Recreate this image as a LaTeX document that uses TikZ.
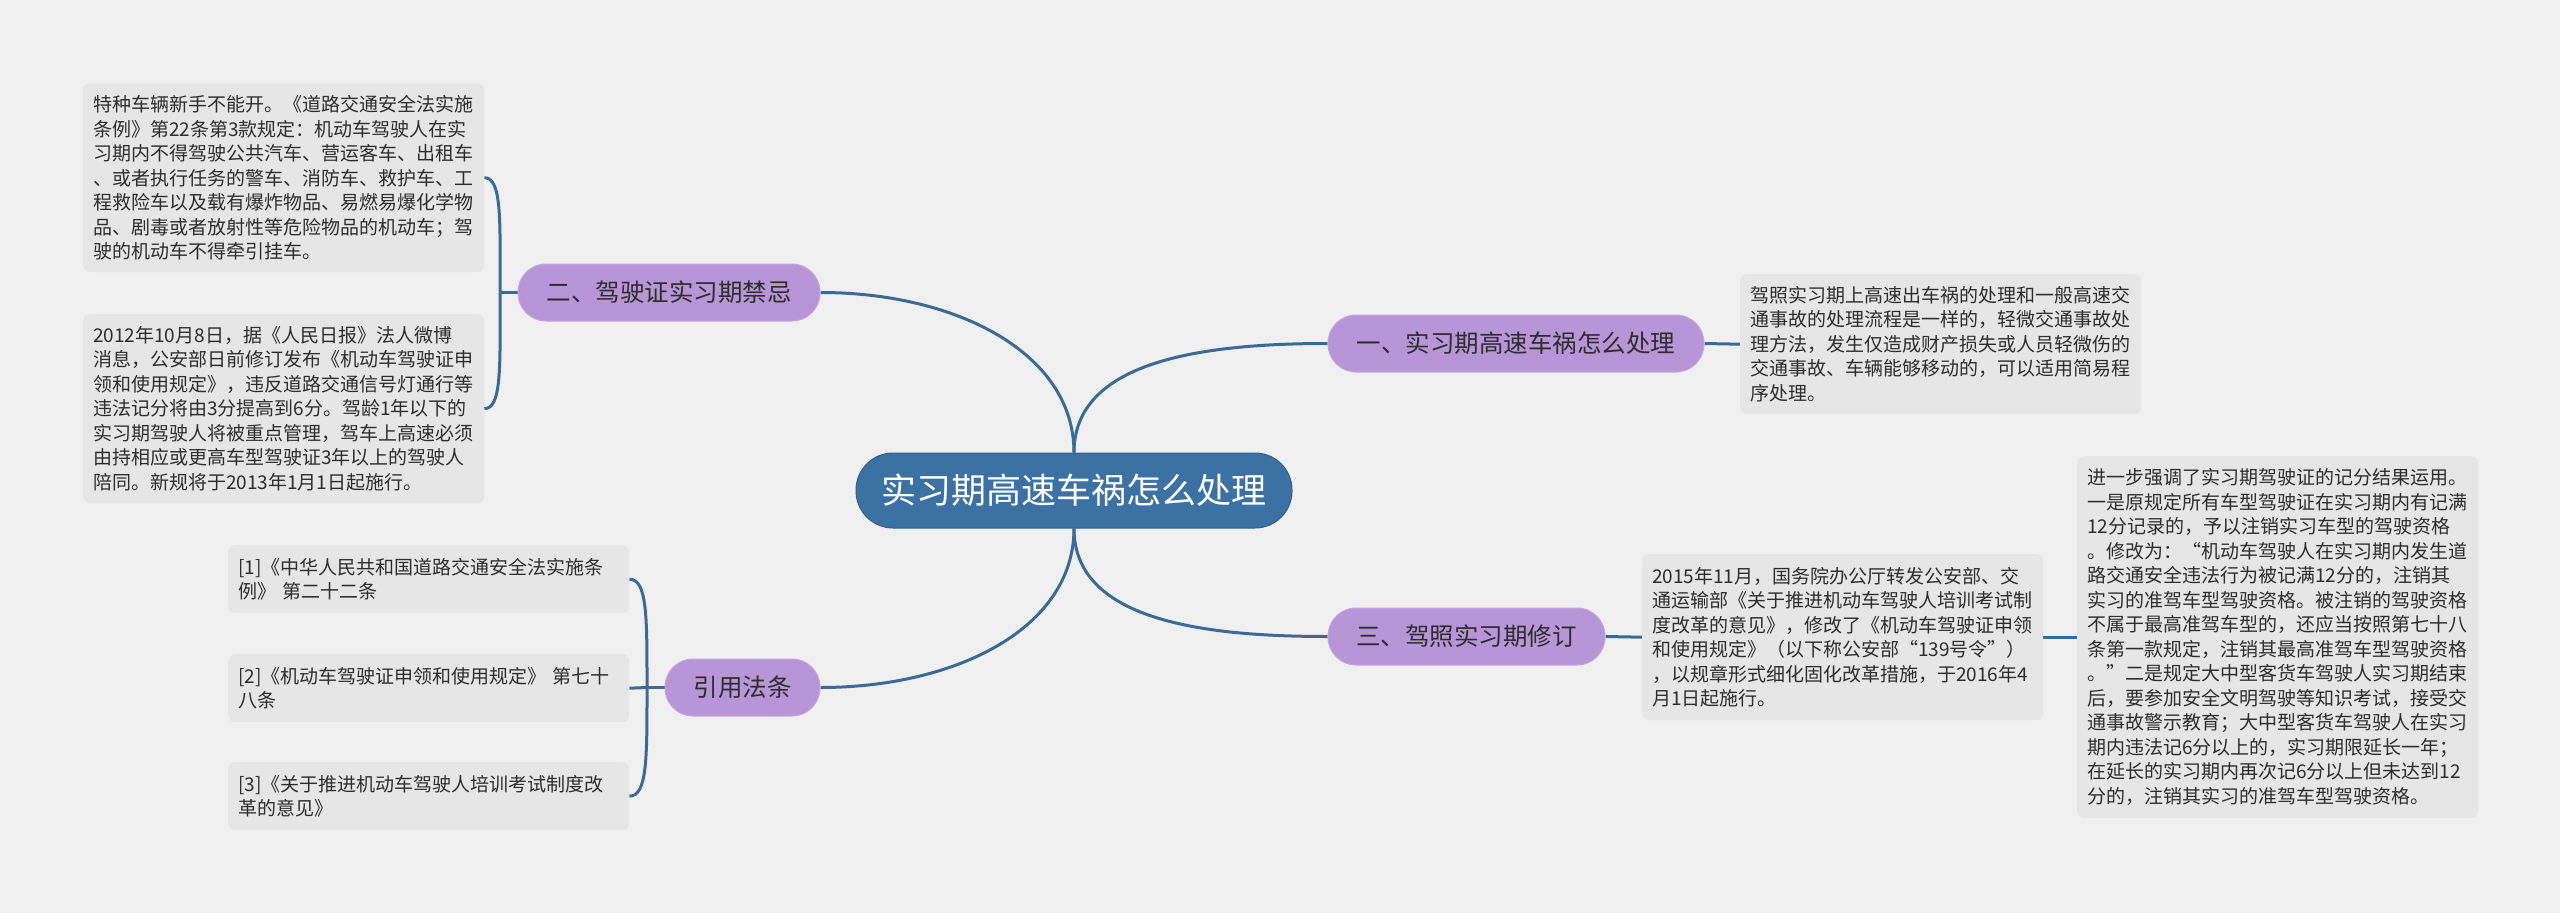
\documentclass[tikz,border=0pt]{standalone}
\usepackage{fontspec}
\setmainfont{Noto Sans CJK SC}
\usetikzlibrary{calc}
\definecolor{bgc}{RGB}{240,240,240}
\definecolor{boxc}{RGB}{230,230,230}
\definecolor{linec}{RGB}{58,107,152}
\definecolor{centc}{RGB}{60,113,163}
\definecolor{purp}{RGB}{183,149,214}
\definecolor{purpd}{RGB}{196,166,224}
\definecolor{txt}{RGB}{45,45,45}
\pgfdeclarelayer{bg}
\pgfdeclarelayer{edges}
\pgfsetlayers{bg,edges,main}
\tikzset{
  tbox/.style={fill=boxc, rounded corners=7pt, text width=381pt, inner xsep=10pt, inner ysep=0pt,
    align=left, anchor=north west, text=txt, font=\fontsize{19}{24.5}\selectfont},
  branch/.style={fill=purp, draw=purpd, line width=1pt, rounded corners=28pt, minimum height=57pt,
    inner sep=0pt, text=txt, font=\fontsize{24.5}{28}\selectfont},
  central/.style={fill=centc, draw=centc!85!black, line width=1pt, rounded corners=37pt, minimum height=75pt,
    minimum width=436pt, inner sep=0pt, text=white, font=\fontsize{35}{40}\selectfont},
  conn/.style={draw=linec, line width=3pt},
}
\begin{document}
\begin{tikzpicture}[x=1pt,y=-1pt]
\begin{pgfonlayer}{bg}
\fill[bgc] (0,0) rectangle (2560,913);
\end{pgfonlayer}
\useasboundingbox (0,0) rectangle (2560,913);

% central
\node[central] (c) at (1074,490.5) {实习期高速车祸怎么处理};

% branches
\node[branch, minimum width=376pt] (b1) at (1516,343.5) {一、实习期高速车祸怎么处理};
\node[branch, minimum width=302pt] (b2) at (669,292.5) {二、驾驶证实习期禁忌};
\node[branch, minimum width=277pt] (b3) at (1466.5,636.5) {三、驾照实习期修订};
\node[branch, minimum width=155pt] (b4) at (742.5,687.5) {引用法条};

% text boxes
\node[tbox, minimum height=140pt] (t1) at (1740,274) {驾照实习期上高速出车祸的处理和一般高速交\\通事故的处理流程是一样的，轻微交通事故处\\理方法，发生仅造成财产损失或人员轻微伤的\\交通事故、车辆能够移动的，可以适用简易程\\序处理。};

\node[tbox, minimum height=166pt] (t3a) at (1642,554) {2015年11月，国务院办公厅转发公安部、交\\通运输部《关于推进机动车驾驶人培训考试制\\度改革的意见》，修改了《机动车驾驶证申领\\和使用规定》（以下称公安部“139号令”）\\，以规章形式细化固化改革措施，于2016年4\\月1日起施行。};

\node[tbox, minimum height=362pt] (t3b) at (2077,456) {进一步强调了实习期驾驶证的记分结果运用。\\一是原规定所有车型驾驶证在实习期内有记满\\12分记录的，予以注销实习车型的驾驶资格\\。修改为：“机动车驾驶人在实习期内发生道\\路交通安全违法行为被记满12分的，注销其\\实习的准驾车型驾驶资格。被注销的驾驶资格\\不属于最高准驾车型的，还应当按照第七十八\\条第一款规定，注销其最高准驾车型驾驶资格\\。”二是规定大中型客货车驾驶人实习期结束\\后，要参加安全文明驾驶等知识考试，接受交\\通事故警示教育；大中型客货车驾驶人在实习\\期内违法记6分以上的，实习期限延长一年；\\在延长的实习期内再次记6分以上但未达到12\\分的，注销其实习的准驾车型驾驶资格。};

\node[tbox, minimum height=189pt] (t2a) at (83,83) {特种车辆新手不能开。《道路交通安全法实施\\条例》第22条第3款规定：机动车驾驶人在实\\习期内不得驾驶公共汽车、营运客车、出租车\\、或者执行任务的警车、消防车、救护车、工\\程救险车以及载有爆炸物品、易燃易爆化学物\\品、剧毒或者放射性等危险物品的机动车；驾\\驶的机动车不得牵引挂车。};

\node[tbox, minimum height=189pt] (t2b) at (83,314) {2012年10月8日，据《人民日报》法人微博\\消息，公安部日前修订发布《机动车驾驶证申\\领和使用规定》，违反道路交通信号灯通行等\\违法记分将由3分提高到6分。驾龄1年以下的\\实习期驾驶人将被重点管理，驾车上高速必须\\由持相应或更高车型驾驶证3年以上的驾驶人\\陪同。新规将于2013年1月1日起施行。};

\node[tbox, minimum height=68pt] (r1) at (228,545) {[1]《中华人民共和国道路交通安全法实施条\\例》 第二十二条};
\node[tbox, minimum height=68pt] (r2) at (228,654) {[2]《机动车驾驶证申领和使用规定》 第七十\\八条};
\node[tbox, minimum height=68pt] (r3) at (228,762) {[3]《关于推进机动车驾驶人培训考试制度改\\革的意见》};

% junctions
\coordinate (j2) at (500,292.5);
\coordinate (j4) at (647,687.5);

\begin{pgfonlayer}{edges}
% centre to branches
\draw[conn] (c.north) .. controls +(0,-90) and +(-130,0) .. (b1.west);
\draw[conn] (c.north) .. controls +(0,-100) and +(135,0) .. (b2.east);
\draw[conn] (c.south) .. controls +(0,90) and +(-130,0) .. (b3.west);
\draw[conn] (c.south) .. controls +(0,100) and +(135,0) .. (b4.east);
% right side
\draw[conn] (b1.east) -- (t1.west);
\draw[conn] (b3.east) -- (t3a.west);
\draw[conn] (t3a.east) -- (t3b.west);
% left brackets
\draw[conn] (b2.west) -- (j2);
\draw[conn] (j2) .. controls +(0,-70) and +(18,0) .. (t2a.east);
\draw[conn] (j2) .. controls +(0,70) and +(18,0) .. (t2b.east);
\draw[conn] (b4.west) -- (j4);
\draw[conn] (j4) -- (r2.east);
\draw[conn] (j4) .. controls +(0,-70) and +(18,0) .. (r1.east);
\draw[conn] (j4) .. controls +(0,70) and +(18,0) .. (r3.east);
\end{pgfonlayer}
\end{tikzpicture}
\end{document}
